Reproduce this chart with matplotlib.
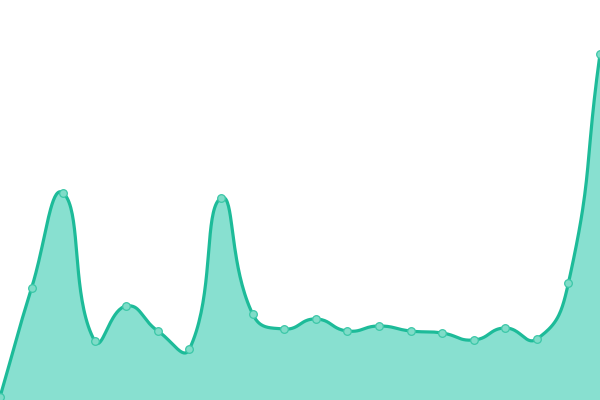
import numpy as np
import matplotlib
matplotlib.use("Agg")
import matplotlib.pyplot as plt

categories = list(range(20))
values = [3, 112, 207, 59, 94, 69, 51, 202, 86, 71, 81, 69, 74, 69, 67, 60, 72, 61, 117, 346]

LINE = "#1dbb99"
FILL = "#88e0d0"
MARK = "#7fdcc8"

W, H = 600, 400
fig = plt.figure(figsize=(6, 4), dpi=100)
ax = fig.add_axes([0, 0, 1, 1])
ax.set_xlim(0, len(values) - 1)
ax.set_ylim(0, 400)
ax.axis("off")

# smooth bezier (echarts-like) in pixel space
px = np.array(categories, float) * W / (len(values) - 1)
py = np.array(values, float)
pts = np.column_stack([px, py])
n = len(pts)
smooth = 0.5
cps = []
for i in range(n):
    p = pts[i]
    prev = pts[i - 1] if i > 0 else p
    nxt = pts[i + 1] if i < n - 1 else p
    v = nxt - prev
    d0 = np.linalg.norm(p - prev)
    d1 = np.linalg.norm(nxt - p)
    s = d0 + d1
    r = d0 / s if s > 0 else 0.5
    cin = p - v * smooth * r
    cout = p + v * smooth * (1 - r)
    cps.append((cin, cout))

curve = []
t = np.linspace(0, 1, 40)[:, None]
for i in range(n - 1):
    p0 = pts[i]; p3 = pts[i + 1]
    c1 = cps[i][1]; c2 = cps[i + 1][0]
    seg = (1 - t) ** 3 * p0 + 3 * (1 - t) ** 2 * t * c1 + 3 * (1 - t) * t ** 2 * c2 + t ** 3 * p3
    curve.append(seg if i == 0 else seg[1:])
curve = np.vstack(curve)
cx = curve[:, 0] * (len(values) - 1) / W
cy = curve[:, 1]

ax.fill_between(cx, cy, 0, color=FILL, lw=0)
ax.plot(cx, cy, color=LINE, lw=2.3, solid_capstyle="round")
ax.plot(categories, values, "o", ms=5.5, mfc=MARK, mec="#3cc7a8", mew=0.9, clip_on=True)

fig.savefig("out.png", dpi=100)
